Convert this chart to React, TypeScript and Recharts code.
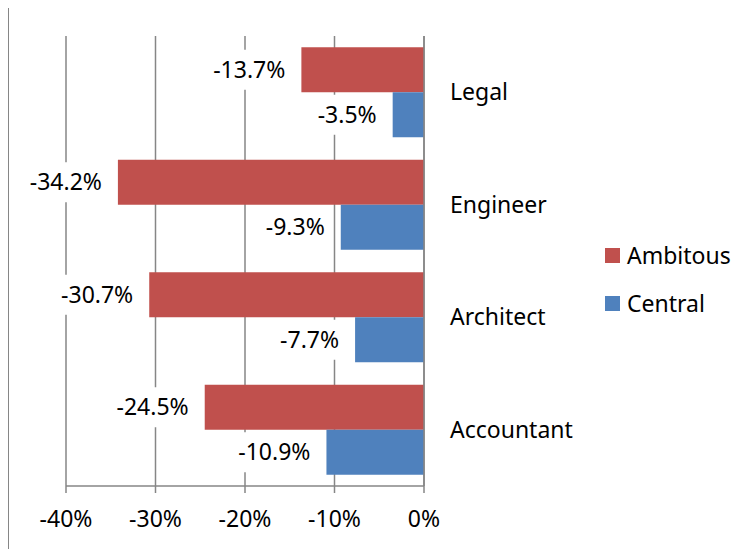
import { BarChart, Bar, XAxis, YAxis, CartesianGrid, Legend, LabelList } from 'recharts';

const categories = ['Legal', 'Engineer', 'Architect', 'Accountant'];
const ambitous = [-13.7, -34.2, -30.7, -24.5];
const central = [-3.5, -9.3, -7.7, -10.9];
const xTicks = [-40, -30, -20, -10, 0];

const data = categories.map((name, i) => ({ name, Ambitous: ambitous[i], Central: central[i] }));

const GRID = '#868686';
const FONT = 23;

const pct = (v: number) => `${v.toFixed(1)}%`;

// label sits left of the bar end, with a white box that hides the gridlines behind it
function BarLabel(props: any) {
  const { x, y, width, height, value } = props;
  const left = Math.min(x, x + width);
  const cy = y + height / 2;
  const txt = pct(value);
  const w = txt.length * 12.4 + 14;
  const right = left - 9;
  return (
    <g>
      <rect x={right - w} y={cy - 20} width={w} height={40} fill="#fff" />
      <text x={left - 16} y={cy} dy="0.35em" textAnchor="end" fontSize={FONT} fill="#000">
        {txt}
      </text>
    </g>
  );
}

function LegendBox(props: any) {
  const items = props.payload || [];
  return (
    <div style={{ position: 'relative', height: 90 }}>
      {items.map((it: any, i: number) => (
        <div
          key={it.value}
          style={{ position: 'absolute', top: i * 48, left: 0, height: 34, display: 'flex', alignItems: 'center' }}
        >
          <span style={{ width: 15, height: 15, background: it.color, marginRight: 7, display: 'inline-block' }} />
          <span style={{ fontSize: FONT, color: '#000' }}>{it.value}</span>
        </div>
      ))}
    </div>
  );
}

export default function App() {
  return (
    <div
      style={{
        marginTop: -1,
        width: 738,
        height: 541,
        borderTop: `1px solid ${GRID}`,
        borderLeft: `1px solid ${GRID}`,
        fontFamily: '"Noto Sans", sans-serif',
        background: '#fff',
      }}
    >
      <BarChart
        width={738}
        height={541}
        data={data}
        layout="vertical"
        barCategoryGap="10%"
        barGap={0}
        margin={{ top: 28, right: 223, left: 57, bottom: 23 }}
      >
        <CartesianGrid horizontal={false} stroke={GRID} strokeWidth={1.5} />
        <XAxis
          type="number"
          domain={[-40, 0]}
          ticks={xTicks}
          interval={0}
          tickFormatter={(v: number) => `${v}%`}
          stroke={GRID}
          strokeWidth={1.5}
          tickSize={7}
          tickMargin={18}
          height={40}
          tick={{ fill: '#000', fontSize: FONT }}
        />
        <YAxis
          type="category"
          dataKey="name"
          orientation="right"
          width={100}
          stroke={GRID}
          strokeWidth={1.5}
          tickLine={false}
          tickSize={0}
          tickMargin={26}
          tick={{ fill: '#000', fontSize: FONT }}
        />
        <Legend
          layout="horizontal"
          verticalAlign="middle"
          align="center"
          content={<LegendBox />}
          wrapperStyle={{ left: 596, top: 230, width: 150 }}
        />
        <Bar dataKey="Ambitous" fill="#C0504D" isAnimationActive={false}>
          <LabelList dataKey="Ambitous" content={<BarLabel />} />
        </Bar>
        <Bar dataKey="Central" fill="#4F81BD" isAnimationActive={false}>
          <LabelList dataKey="Central" content={<BarLabel />} />
        </Bar>
      </BarChart>
    </div>
  );
}
